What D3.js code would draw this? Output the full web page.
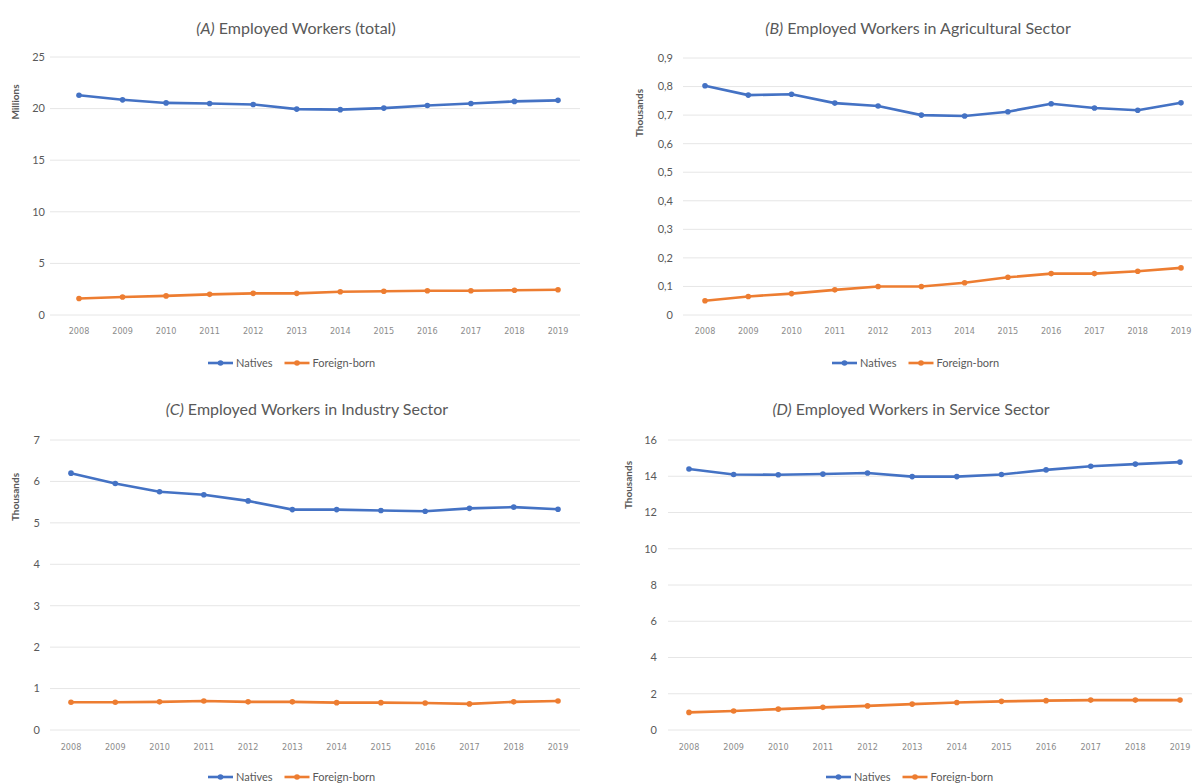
<!DOCTYPE html>
<html><head><meta charset="utf-8">
<script src="https://cdn.jsdelivr.net/npm/d3@7"></script>
<style>body{margin:0;background:#fff}svg{display:block}</style>
</head><body>
<svg id="c" width="1192" height="783"></svg>
<script>
const years = ["2008","2009","2010","2011","2012","2013","2014","2015","2016","2017","2018","2019"];
const seriesNames = ["Natives","Foreign-born"];
const totalNatives = [21.3,20.85,20.55,20.5,20.4,19.95,19.9,20.05,20.3,20.5,20.7,20.8];
const totalForeign = [1.6,1.75,1.85,2.0,2.1,2.1,2.25,2.3,2.35,2.35,2.4,2.45];
const agriNatives = [0.803,0.770,0.773,0.742,0.732,0.700,0.697,0.712,0.740,0.725,0.717,0.743];
const agriForeign = [0.050,0.065,0.075,0.088,0.100,0.100,0.113,0.132,0.145,0.145,0.153,0.165];
const indNatives = [6.2,5.95,5.75,5.68,5.53,5.32,5.32,5.30,5.28,5.35,5.38,5.33];
const indForeign = [0.67,0.67,0.68,0.70,0.68,0.68,0.66,0.66,0.65,0.63,0.68,0.70];
const servNatives = [14.4,14.1,14.08,14.12,14.18,13.98,13.98,14.1,14.35,14.55,14.67,14.78];
const servForeign = [0.97,1.05,1.15,1.25,1.33,1.43,1.52,1.58,1.62,1.65,1.65,1.65];
const ticksA = [0,5,10,15,20,25];
const ticksB = [0,0.1,0.2,0.3,0.4,0.5,0.6,0.7,0.8,0.9];
const ticksC = [0,1,2,3,4,5,6,7];
const ticksD = [0,2,4,6,8,10,12,14,16];
const titlesLetter = ["(A)","(B)","(C)","(D)"];
const titlesText = [" Employed Workers (total)"," Employed Workers in Agricultural Sector"," Employed Workers in Industry Sector"," Employed Workers in Service Sector"];
const yTitles = ["Millions","Thousands","Thousands","Thousands"];

const colors = ["#4472C4","#ED7D31"];
const svg = d3.select("#c");
const fmtComma = v => v===0 ? "0" : d3.format(".1f")(v).replace(".", ",");

const panels = [
  {nat:totalNatives, fb:totalForeign, ticks:ticksA, fmt:d3.format("d"), max:25,
   x0:79,x1:558, y0:315,y1:57, g0:50,g1:580, tx:45, ytx:19, yty:102, titleX:296, titleY:34, xlY:334, legY:363, legX:208},
  {nat:agriNatives, fb:agriForeign, ticks:ticksB, fmt:fmtComma, max:0.9,
   x0:705,x1:1181, y0:315,y1:58, g0:683,g1:1192, tx:673, ytx:643, yty:113, titleX:918, titleY:34, xlY:334, legY:363, legX:832},
  {nat:indNatives, fb:indForeign, ticks:ticksC, fmt:d3.format("d"), max:7,
   x0:71,x1:558, y0:730,y1:440, g0:50,g1:580, tx:40, ytx:19, yty:497, titleX:307, titleY:415, xlY:750, legY:777, legX:208},
  {nat:servNatives, fb:servForeign, ticks:ticksD, fmt:d3.format("d"), max:16,
   x0:689,x1:1180, y0:730,y1:440, g0:668,g1:1192, tx:657, ytx:632, yty:485, titleX:911, titleY:415, xlY:750, legY:777, legX:826}
];

panels.forEach((p,i)=>{
  const g = svg.append("g");
  const x = d3.scalePoint().domain(years).range([p.x0,p.x1]);
  const y = d3.scaleLinear().domain([0,p.max]).range([p.y0,p.y1]);
  // grid
  g.selectAll("line.grid").data(p.ticks).join("line")
    .attr("x1",p.g0).attr("x2",p.g1).attr("y1",d=>y(d)).attr("y2",d=>y(d))
    .attr("stroke","#e6e6e6").attr("stroke-width",1);
  // y tick labels
  g.selectAll("text.yt").data(p.ticks).join("text")
    .attr("x",p.tx).attr("y",d=>y(d)).attr("dy","0.35em").attr("text-anchor","end")
    .attr("font-family","Lato, 'Open Sans', sans-serif").attr("font-size",11).attr("fill","#595959")
    .text(d=>p.fmt(d));
  // x labels
  g.selectAll("text.xt").data(years).join("text")
    .attr("x",d=>x(d)).attr("y",p.xlY).attr("text-anchor","middle")
    .attr("font-family","'Liberation Sans Narrow', 'DejaVu Sans Condensed', sans-serif").attr("font-size",9).attr("fill","#8c8c8c")
    .text(d=>d);
  // y title
  g.append("text").attr("transform",`translate(${p.ytx},${p.yty}) rotate(-90)`)
    .attr("text-anchor","middle").attr("font-family","Lato, sans-serif").attr("font-size",10).attr("font-weight","bold").attr("fill","#595959")
    .text(yTitles[i]);
  // title
  const t = g.append("text").attr("x",p.titleX).attr("y",p.titleY).attr("text-anchor","middle")
    .attr("font-family","Lato, 'Open Sans', sans-serif").attr("font-size",16).attr("fill","#595959");
  t.append("tspan").attr("font-style","italic").text(titlesLetter[i]);
  t.append("tspan").text(titlesText[i]);
  // lines
  [p.nat,p.fb].forEach((vals,k)=>{
    const line = d3.line().x((d,j)=>x(years[j])).y(d=>y(d));
    g.append("path").attr("d",line(vals)).attr("fill","none").attr("stroke",colors[k])
      .attr("stroke-width",2.6).attr("stroke-linejoin","round");
    g.selectAll(null).data(vals).join("circle")
      .attr("cx",(d,j)=>x(years[j])).attr("cy",d=>y(d)).attr("r",2.8).attr("fill",colors[k]);
  });
  // legend
  const leg = g.append("g").attr("transform",`translate(${p.legX},${p.legY})`);
  let off = 0;
  seriesNames.forEach((n,k)=>{
    const lg = leg.append("g").attr("transform",`translate(${off},0)`);
    lg.append("line").attr("x1",0).attr("x2",25).attr("y1",0).attr("y2",0).attr("stroke",colors[k]).attr("stroke-width",2.6);
    lg.append("circle").attr("cx",12.5).attr("cy",0).attr("r",2.8).attr("fill",colors[k]);
    const tx = lg.append("text").attr("x",28).attr("y",0).attr("dy","0.35em")
      .attr("font-family","Lato, sans-serif").attr("font-size",11).attr("fill","#595959").text(n);
    off += 28 + tx.node().getComputedTextLength() + 12;
  });
});
</script>
</body></html>
